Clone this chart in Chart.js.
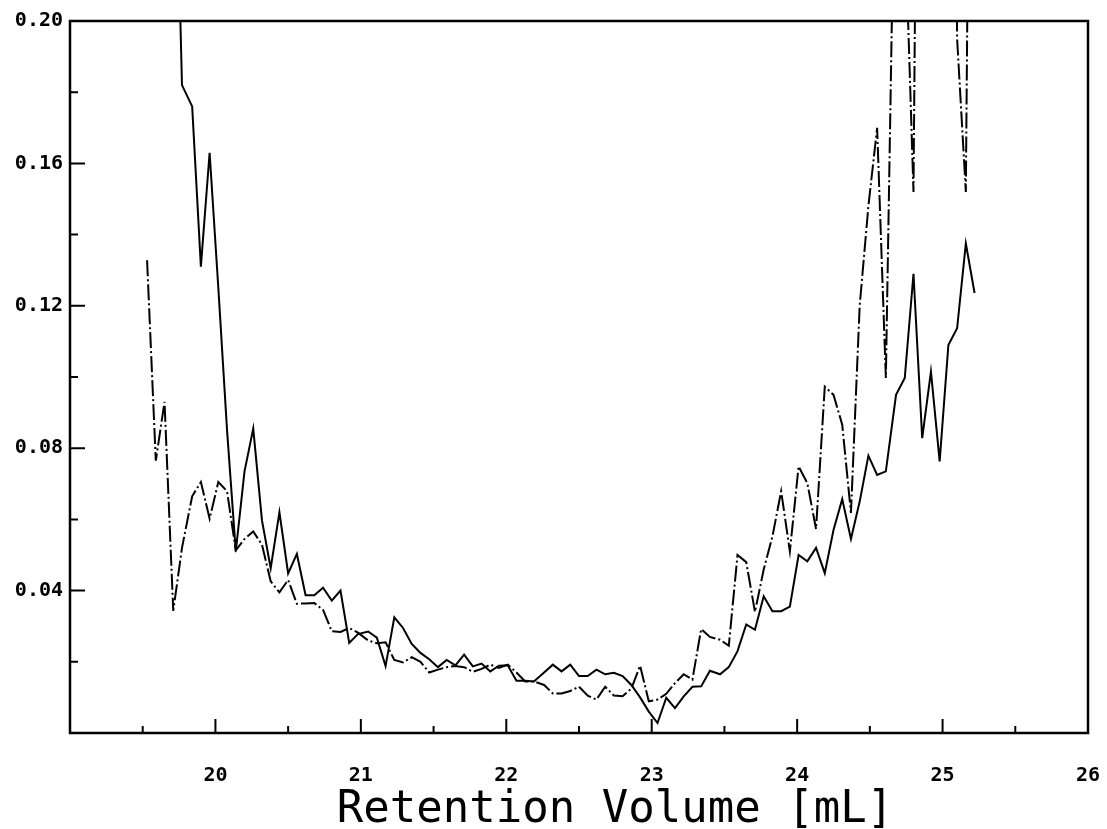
<!DOCTYPE html>
<html>
<head>
<meta charset="utf-8">
<script src="https://cdn.jsdelivr.net/npm/chart.js@4/dist/chart.umd.min.js"></script>
<style>
  html, body { margin: 0; padding: 0; background: #fff; }
  #wrap { width: 1107px; height: 829px; }
</style>
</head>
<body>
<div id="wrap"><canvas id="chart"></canvas></div>
<script>
// retention volume of each sample [mL]
const volume = [
  19.53, 19.59, 19.65, 19.71, 19.77, 19.84, 19.90, 19.96, 20.02, 20.08,
  20.14, 20.20, 20.26, 20.32, 20.38, 20.44, 20.50, 20.56, 20.62, 20.68,
  20.74, 20.80, 20.86, 20.92, 20.98, 21.05, 21.11, 21.17, 21.23, 21.29,
  21.35, 21.41, 21.47, 21.53, 21.59, 21.65, 21.71, 21.77, 21.83, 21.89,
  21.95, 22.01, 22.07, 22.13, 22.19, 22.26, 22.32, 22.38, 22.44, 22.50,
  22.56, 22.62, 22.68, 22.74, 22.80, 22.86, 22.92, 22.98, 23.04, 23.10,
  23.16, 23.22, 23.28, 23.34, 23.40, 23.47, 23.53, 23.59, 23.65, 23.71,
  23.77, 23.83, 23.89, 23.95, 24.01, 24.07, 24.13, 24.19, 24.25, 24.31,
  24.37, 24.43, 24.49, 24.55, 24.61, 24.68, 24.74, 24.80, 24.86, 24.92,
  24.98, 25.04, 25.10, 25.16, 25.22
];

// solid trace
const solidTrace = [
  null, null, null, 0.28, 0.182, 0.176, 0.131, 0.163, 0.125, 0.085,
  0.051, 0.0735, 0.0855, 0.0597, 0.0463, 0.062, 0.0448, 0.0503, 0.0387, 0.0387,
  0.0408, 0.0372, 0.04, 0.0253, 0.0278, 0.0285, 0.0268, 0.0188, 0.0325, 0.0295,
  0.025, 0.0225, 0.0207, 0.0185, 0.0205, 0.019, 0.022, 0.0187, 0.0195, 0.0173,
  0.0189, 0.019, 0.0147, 0.0147, 0.0145, 0.017, 0.0192, 0.0173, 0.0192, 0.016,
  0.016, 0.0178, 0.0165, 0.0169, 0.016, 0.0135, 0.01, 0.006, 0.0028, 0.0099,
  0.007, 0.0103, 0.013, 0.0131, 0.0175, 0.0165, 0.0185, 0.023, 0.0305, 0.029,
  0.0384, 0.0342, 0.0342, 0.0355, 0.05, 0.0482, 0.052, 0.0449, 0.057, 0.0657,
  0.0545, 0.065, 0.0779, 0.0725, 0.0735, 0.095, 0.0997, 0.129, 0.0828, 0.1015,
  0.0763, 0.109, 0.1137, 0.1375, 0.1236
];

// dash-dot trace
const dashTrace = [
  0.1328, 0.0765, 0.093, 0.0343, 0.052, 0.0665, 0.0705, 0.0602, 0.0705, 0.0679,
  0.0513, 0.0545, 0.0566, 0.0529, 0.0426, 0.0395, 0.043, 0.0363, 0.0364, 0.0365,
  0.0346, 0.0286, 0.0284, 0.0295, 0.0282, 0.026, 0.0252, 0.0255, 0.0205, 0.0198,
  0.0213, 0.02, 0.017, 0.0178, 0.0185, 0.0188, 0.0185, 0.0172, 0.018, 0.0192,
  0.0183, 0.0192, 0.017, 0.0145, 0.0145, 0.0135, 0.0111, 0.0111, 0.0118, 0.013,
  0.0105, 0.0094, 0.013, 0.0105, 0.0103, 0.0125, 0.0189, 0.0089, 0.0094, 0.011,
  0.014, 0.0165, 0.015, 0.0292, 0.027, 0.0262, 0.0245, 0.05, 0.048, 0.034,
  0.0459, 0.0552, 0.0679, 0.051, 0.0749, 0.0702, 0.0573, 0.0973, 0.095, 0.0866,
  0.0618, 0.12, 0.148, 0.17, 0.0997, 0.27, 0.23, 0.152, 0.45, 0.4,
  0.35, 0.5, 0.195, 0.152, 0.45
];

const xTickLabels = ['20', '21', '22', '23', '24', '25', '26'];
const yTickLabels = ['0.04', '0.08', '0.12', '0.16', '0.20'];
const xTitle = 'Retention Volume [mL]';

const tickFont = { family: 'DejaVu Sans Mono', weight: 'bold', size: 20 };

const toPoints = ys => volume.map((v, i) => ({ x: v, y: ys[i] }));

// frame, inward tick marks and axis title
const framePlugin = {
  id: 'frame',
  afterDraw(chart) {
    const { ctx, chartArea: a, scales: { x, y } } = chart;
    ctx.save();
    ctx.strokeStyle = '#000';
    ctx.lineWidth = 2.5;
    ctx.strokeRect(a.left, a.top, a.right - a.left, a.bottom - a.top);
    ctx.lineWidth = 2;
    ctx.beginPath();
    x.ticks.forEach(t => {
      const px = x.getPixelForValue(t.value);
      const len = Number.isInteger(t.value) ? 14 : 7;
      ctx.moveTo(px, a.bottom);
      ctx.lineTo(px, a.bottom - len);
    });
    y.ticks.forEach(t => {
      const py = y.getPixelForValue(t.value);
      const major = Math.round(t.value * 100) % 4 === 0;
      ctx.moveTo(a.left, py);
      ctx.lineTo(a.left + (major ? 15 : 8), py);
    });
    ctx.stroke();
    ctx.fillStyle = '#000';
    ctx.font = '44px "DejaVu Sans Mono"';
    ctx.textAlign = 'center';
    ctx.textBaseline = 'alphabetic';
    ctx.fillText(xTitle, (a.left + a.right) / 2 + 36, a.bottom + 89);
    ctx.restore();
  }
};

new Chart(document.getElementById('chart'), {
  type: 'line',
  data: {
    datasets: [{
      data: toPoints(solidTrace),
      borderColor: '#000',
      borderWidth: 2,
      pointRadius: 0,
      tension: 0,
      clip: 0
    }, {
      data: toPoints(dashTrace),
      borderColor: '#000',
      borderWidth: 2,
      borderDash: [16, 3, 2, 3],
      pointRadius: 0,
      tension: 0,
      clip: 0
    }]
  },
  options: {
    responsive: true,
    maintainAspectRatio: false,
    animation: false,
    layout: { padding: { top: 21, right: 19, left: 0, bottom: 0 } },
    plugins: {
      legend: { display: false },
      tooltip: { enabled: false }
    },
    scales: {
      x: {
        type: 'linear',
        min: 19,
        max: 26,
        grid: { display: false, drawTicks: false },
        border: { display: false },
        ticks: {
          stepSize: 0.5,
          padding: 31,
          color: '#000',
          font: tickFont,
          maxRotation: 0,
          autoSkip: false,
          callback: v => xTickLabels.includes(String(v)) ? String(v) : ''
        },
        afterFit: s => { s.height = 96; s.paddingLeft = 0; s.paddingRight = 0; }
      },
      y: {
        min: 0,
        max: 0.2,
        grid: { display: false, drawTicks: false },
        border: { display: false },
        ticks: {
          stepSize: 0.02,
          padding: 7,
          color: '#000',
          font: tickFont,
          autoSkip: false,
          callback: v => yTickLabels.includes(v.toFixed(2)) ? v.toFixed(2) : ''
        },
        afterFit: s => { s.width = 70; s.paddingTop = 0; s.paddingBottom = 0; }
      }
    }
  },
  plugins: [framePlugin]
});
</script>
</body>
</html>
